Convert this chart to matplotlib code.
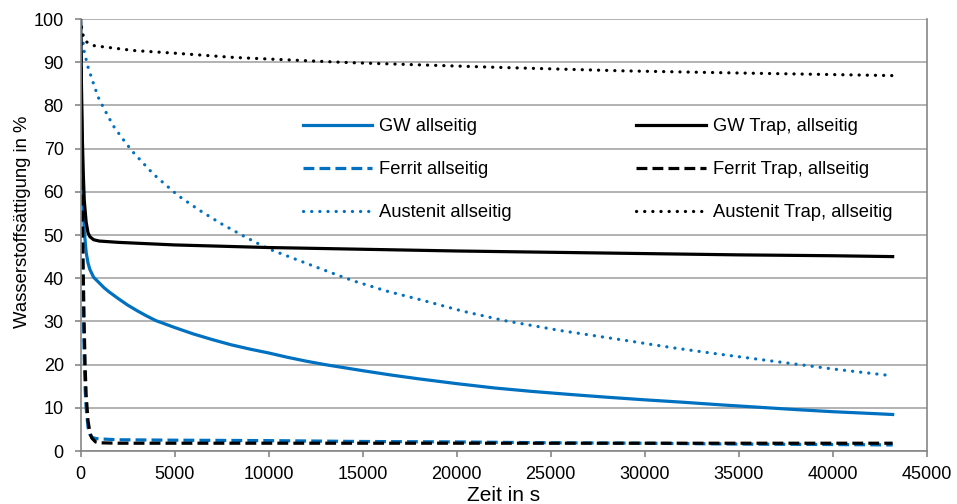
import matplotlib
matplotlib.use("Agg")
import matplotlib.pyplot as plt

plt.rcParams['font.family'] = ['Liberation Sans', 'DejaVu Sans']

# Series (time in s, saturation in %)
gw_t = [0, 50, 100, 150, 200, 300, 400, 500, 700, 1000, 1250, 1500, 2000, 2500,
        3000, 3500, 4000, 4500, 5000, 6000, 7000, 8000, 9000, 10000, 11000, 12000,
        13000, 14000, 15000, 16500, 18000, 20000, 22000, 24000, 26000, 28000,
        30000, 32000, 34000, 36000, 38000, 40000, 42000, 43200]
gw_v = [100, 80, 66, 57, 51, 46, 43.5, 42, 40.2, 38.9, 37.8, 36.9, 35.3, 33.8,
        32.5, 31.3, 30.2, 29.4, 28.6, 27.1, 25.8, 24.6, 23.6, 22.7, 21.7, 20.8,
        20.0, 19.3, 18.6, 17.6, 16.7, 15.6, 14.6, 13.8, 13.1, 12.45,
        11.85, 11.3, 10.7, 10.15, 9.6, 9.1, 8.7, 8.45]

gw_trap_t = [0, 50, 100, 150, 200, 300, 400, 500, 700, 1000, 2000, 5000, 10000,
             15000, 20000, 25000, 30000, 35000, 40000, 43200]
gw_trap_v = [100, 85, 72, 64, 58, 53, 50.5, 49.6, 48.9, 48.6, 48.3, 47.7, 47.1,
             46.7, 46.3, 46.0, 45.7, 45.4, 45.2, 45.0]

ferrit_t = [0, 30, 60, 100, 150, 200, 250, 300, 400, 500, 600, 800, 1000, 2000,
            5000, 10000, 15000, 20000, 25000, 30000, 35000, 40000, 43200]
ferrit_v = [100, 85, 68, 48, 32, 21, 14, 10, 5.5, 3.8, 3.2, 2.9, 2.8, 2.6,
            2.5, 2.4, 2.2, 2.1, 1.9, 1.8, 1.6, 1.5, 1.4]

ferrit_trap_t = [0, 30, 60, 100, 150, 200, 250, 300, 400, 500, 600, 800, 1000,
                 2000, 5000, 20000, 43200]
ferrit_trap_v = [100, 88, 72, 55, 40, 28, 19, 13, 7, 4.3, 3.0, 2.1, 1.9,
                 1.8, 1.8, 1.8, 1.8]

austenit_t = [0, 90, 180, 390, 655, 940, 1330, 1740, 2220, 2750, 3340, 3900, 4560,
              5200, 6300, 7450, 8700, 9940, 11200, 12400, 13500, 14500, 16300,
              18270, 20300, 22530, 25500, 28840, 31500, 34000, 37000, 40000, 43200]
austenit_v = [100, 96.7, 92.8, 89, 85.5, 81.9, 78.6, 75.3, 72.4, 69.4, 66.6, 64, 61.5,
              59.1, 55.8, 52.7, 49.7, 46.9, 44.8, 42.8, 41.0, 39.4, 37.0,
              34.8, 32.4, 30.2, 27.9, 25.7, 23.9, 22.4, 20.7, 19.0, 17.4]

austenit_trap_t = [0, 90, 320, 745, 2840, 4970, 8160, 12250, 14330, 22230, 28840,
                   35000, 43200]
austenit_trap_v = [100, 96.7, 94.7, 93.8, 92.7, 92.1, 91.1, 90.3, 89.9, 88.8, 88.0,
                   87.5, 86.9]

y_ticks = list(range(0, 101, 10))
x_ticks = list(range(0, 45001, 5000))

blue = '#0070C0'
black = '#000000'
grey = '#868686'

fig = plt.figure(figsize=(9.57, 5.04), dpi=100)
ax = fig.add_axes([80.5 / 957, 1 - 451 / 504, 846 / 957, 432 / 504])

lw = 2.3
dashed = (0, (3.4, 1.6))
dotted = (0, (0.05, 2.5))

l_gw, = ax.plot(gw_t, gw_v, color=blue, lw=lw, label='GW allseitig')
l_fe, = ax.plot(ferrit_t, ferrit_v, color=blue, lw=lw, ls=dashed,
                label='Ferrit allseitig')
l_au, = ax.plot(austenit_t, austenit_v, color=blue, lw=lw, ls=dotted,
                dash_capstyle='round', label='Austenit allseitig')
l_gwt, = ax.plot(gw_trap_t, gw_trap_v, color=black, lw=lw, label='GW Trap, allseitig')
l_fet, = ax.plot(ferrit_trap_t, ferrit_trap_v, color=black, lw=lw, ls=dashed,
                 label='Ferrit Trap, allseitig')
l_aut, = ax.plot(austenit_trap_t, austenit_trap_v, color=black, lw=lw, ls=dotted,
                 dash_capstyle='round', label='Austenit Trap, allseitig')

ax.set_xlim(0, 45000)
ax.set_ylim(0, 100)
ax.set_xticks(x_ticks)
ax.set_yticks(y_ticks)
ax.yaxis.grid(True, color='#A6A6A6', lw=1.2)
ax.set_axisbelow(True)

for side in ['left', 'bottom', 'right']:
    ax.spines[side].set_color(grey)
    ax.spines[side].set_linewidth(1.2)
ax.spines['top'].set_visible(False)
ax.tick_params(axis='both', direction='out', length=4.5, width=1.2, color=grey,
               labelsize=13, labelcolor='#000000')
ax.tick_params(axis='y', pad=7.5)
ax.tick_params(axis='x', pad=6.5)

ax.set_xlabel('Zeit in s', fontsize=15, labelpad=2)
ax.set_ylabel('Wasserstoffsättigung in %', fontsize=13.3)
ax.yaxis.set_label_coords((31 - 80.5) / 846, (451 - 222) / 432)

handles = [l_gw, l_fe, l_au, l_gwt, l_fet, l_aut]
ax.legend(handles=handles, ncol=2, loc='upper left', frameon=False,
          bbox_to_anchor=((302.5 - 80.5) / 846, (451 - 118) / 432),
          borderaxespad=0, borderpad=0, fontsize=13.2, handlelength=3.8,
          handletextpad=0.38, columnspacing=6.8, labelspacing=1.43)

fig.savefig('out.png', dpi=100)
